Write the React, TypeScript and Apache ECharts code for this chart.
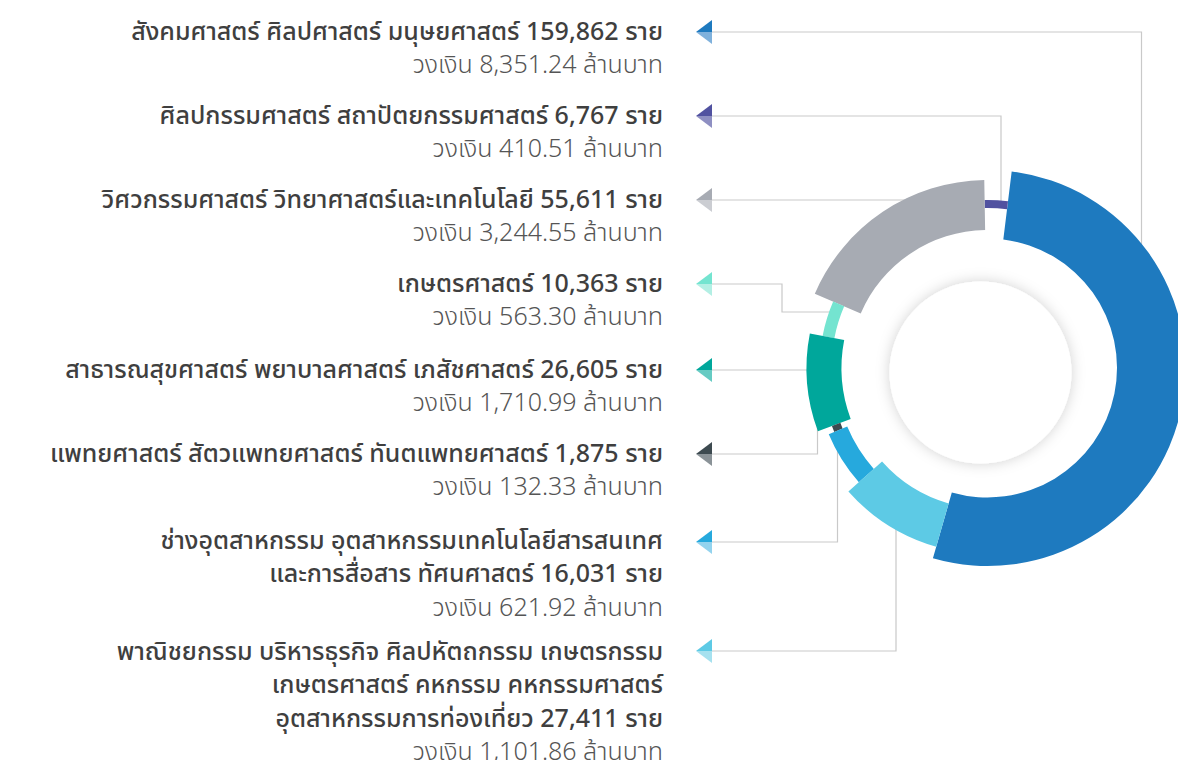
import React, { useEffect, useRef } from "react";
import * as echarts from "echarts";

const categories: string[][] = [
  ["สังคมศาสตร์ ศิลปศาสตร์ มนุษยศาสตร์"],
  ["ศิลปกรรมศาสตร์ สถาปัตยกรรมศาสตร์"],
  ["วิศวกรรมศาสตร์ วิทยาศาสตร์และเทคโนโลยี"],
  ["เกษตรศาสตร์"],
  ["สาธารณสุขศาสตร์ พยาบาลศาสตร์ เภสัชศาสตร์"],
  ["แพทยศาสตร์ สัตวแพทยศาสตร์ ทันตแพทยศาสตร์"],
  ["ช่างอุตสาหกรรม อุตสาหกรรมเทคโนโลยีสารสนเทศ", "และการสื่อสาร ทัศนศาสตร์"],
  [
    "พาณิชยกรรม บริหารธุรกิจ ศิลปหัตถกรรม เกษตรกรรม",
    "เกษตรศาสตร์ คหกรรม คหกรรมศาสตร์",
    "อุตสาหกรรมการท่องเที่ยว",
  ],
];
const counts: number[] = [159862, 6767, 55611, 10363, 26605, 1875, 16031, 27411];
const amounts: number[] = [8351.24, 410.51, 3244.55, 563.3, 1710.99, 132.33, 621.92, 1101.86];

// styles
const colors = ["#1E7ABF", "#5152A0", "#A7ABB3", "#74E4D0", "#00A79B", "#3D4A50", "#26A9DD", "#5DCAE5"];
const lightColors = ["#7FB1DC", "#8E8FC2", "#CBCDD2", "#B3EFE4", "#66CBC3", "#8A9297", "#93D3EE", "#A6E1EF"];
const radii: [number, number][] = [
  [129.5, 198],
  [160, 168],
  [138, 188],
  [156, 168],
  [146, 181],
  [157, 166],
  [152, 172],
  [141, 186],
];
const CENTER: [number, number] = [987.5, 368];
const firstLineY = [32, 116, 200, 284, 370, 454, 541, 652];
const LINE_GAP = 33.3;
const TEXT_X = 663;
const FONT = "'Noto Sans Thai', 'Noto Sans', 'DejaVu Sans', sans-serif";

// connector paths (layout)
const connectors: number[][][] = [
  [[712, 32], [1141.5, 32], [1141.5, 260]],
  [[712, 116], [1001, 116], [1001, 205]],
  [[712, 200], [905, 200]],
  [[712, 284], [782, 284], [782, 312], [832, 312]],
  [[712, 370], [815, 370]],
  [[712, 454], [817.5, 454], [817.5, 425]],
  [[712, 542], [837.5, 542], [837.5, 440]],
  [[712, 651], [896, 651], [896, 525]],
];

const fmt = (n: number) =>
  n.toLocaleString("en-US", { minimumFractionDigits: 2, maximumFractionDigits: 2 });

export default function App() {
  const ref = useRef<HTMLDivElement>(null);
  useEffect(() => {
    document.body.style.margin = "0";
    const chart = echarts.init(ref.current!, undefined, { renderer: "svg" });

    const graphics: any[] = [];
    connectors.forEach((pts) => {
      graphics.push({
        type: "polyline",
        z: 0,
        silent: true,
        shape: { points: pts },
        style: { stroke: "#C9C9C9", lineWidth: 1.2, fill: null },
      });
    });
    graphics.push({
      type: "circle",
      z: 10,
      silent: true,
      shape: { cx: 980.5, cy: 372.5, r: 91 },
      style: { fill: "#ffffff", shadowBlur: 14, shadowColor: "rgba(0,0,0,0.18)" },
    });
    categories.forEach((lines, i) => {
      const y0 = firstLineY[i];
      lines.forEach((ln, k) => {
        const isLast = k === lines.length - 1;
        graphics.push({
          type: "text",
          z: 20,
          x: TEXT_X,
          y: y0 + k * LINE_GAP,
          style: {
            text: isLast ? `${ln} ${counts[i].toLocaleString("en-US")} ราย` : ln,
            align: "right",
            verticalAlign: "middle",
            fontSize: 25,
            lineHeight: 30,
            fontWeight: 500,
            fontFamily: FONT,
            fill: "#3F3F3F",
          },
        });
      });
      graphics.push({
        type: "text",
        z: 20,
        x: TEXT_X,
        y: y0 + lines.length * LINE_GAP,
        style: {
          text: `วงเงิน ${fmt(amounts[i])} ล้านบาท`,
          align: "right",
          verticalAlign: "middle",
          fontSize: 25,
          lineHeight: 30,
          fontWeight: 300,
          fontFamily: FONT,
          fill: "#555555",
        },
      });
      const ay = i === 7 ? 651 : i === 6 ? 542 : y0;
      graphics.push({
        type: "polygon",
        z: 20,
        shape: { points: [[696, ay], [712, ay - 12], [712, ay]] },
        style: { fill: colors[i] },
      });
      graphics.push({
        type: "polygon",
        z: 20,
        shape: { points: [[696, ay], [712, ay], [712, ay + 12]] },
        style: { fill: lightColors[i] },
      });
    });

    const series = counts.map((_, i) => ({
      type: "pie",
      z: 2,
      silent: true,
      center: CENTER,
      radius: radii[i],
      startAngle: -106,
      clockwise: false,
      label: { show: false },
      labelLine: { show: false },
      emphasis: { disabled: true },
      itemStyle: { borderWidth: 0 },
      data: counts.map((v, j) => ({
        value: v,
        name: categories[j].join(" "),
        itemStyle: { color: j === i ? colors[i] : "rgba(0,0,0,0)" },
      })),
    }));

    chart.setOption({
      animation: false,
      backgroundColor: "#ffffff",
      graphic: { elements: graphics },
      series,
    });
    return () => chart.dispose();
  }, []);
  return <div ref={ref} style={{ width: 1178, height: 760, overflow: "hidden" }} />;
}
